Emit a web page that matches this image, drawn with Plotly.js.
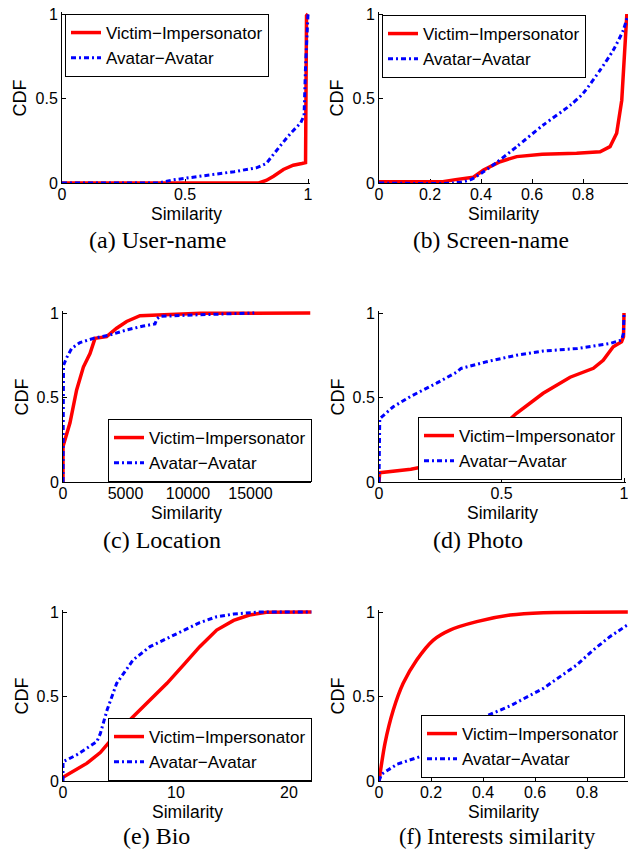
<!DOCTYPE html>
<html><head><meta charset="utf-8">
<script src="https://cdn.plot.ly/plotly-3.0.1.min.js"></script>
<style>html,body{margin:0;padding:0;background:#fff}#chart{width:628px;height:852px}</style>
</head><body><div id="chart"></div>
<script>
// ---------- data ----------
const seriesNames = ['Victim\u2212Impersonator', 'Avatar\u2212Avatar'];
const captions = ['(a) User-name', '(b) Screen-name', '(c) Location', '(d) Photo', '(e) Bio', '(f) Interests similarity'];
const xTitle = 'Similarity';
const yTitle = 'CDF';

const yTicks = [0, 0.5, 1];
const yTickText = ['0', '0.5', '1'];
const xTicksA = [0, 0.5, 1];            const xTickTextA = ['0', '0.5', '1'];
const xTicksB = [0, 0.2, 0.4, 0.6, 0.8]; const xTickTextB = ['0', '0.2', '0.4', '0.6', '0.8'];
const xTicksC = [0, 5000, 10000, 15000]; const xTickTextC = ['0', '5000', '10000', '15000'];
const xTicksD = [0, 0.5, 1];            const xTickTextD = ['0', '0.5', '1'];
const xTicksE = [0, 10, 20];            const xTickTextE = ['0', '10', '20'];
const xTicksF = [0, 0.2, 0.4, 0.6, 0.8]; const xTickTextF = ['0', '0.2', '0.4', '0.6', '0.8'];

// (a) User-name
const userVictimX = [0, 0.8, 0.83, 0.86, 0.9, 0.94, 0.975, 0.99, 0.994, 1];
const userVictimY = [0, 0, 0.015, 0.04, 0.08, 0.105, 0.115, 0.12, 0.99, 1];
const userAvatarX = [0, 0.39, 0.45, 0.56, 0.70, 0.79, 0.83, 0.89, 0.93, 0.97, 0.984, 0.99, 0.997, 1];
const userAvatarY = [0, 0, 0.018, 0.04, 0.067, 0.09, 0.115, 0.225, 0.295, 0.355, 0.40, 0.69, 0.96, 1];

// (b) Screen-name
const screenVictimX = [0, 0.25, 0.3, 0.37, 0.41, 0.475, 0.54, 0.64, 0.775, 0.867, 0.906, 0.932, 0.952, 0.965, 0.972];
const screenVictimY = [0.008, 0.008, 0.02, 0.034, 0.077, 0.126, 0.156, 0.17, 0.176, 0.185, 0.215, 0.294, 0.49, 0.787, 1];
const screenAvatarX = [0, 0.29, 0.357, 0.41, 0.46, 0.54, 0.644, 0.75, 0.80, 0.867, 0.919, 0.958, 0.975];
const screenAvatarY = [0, 0, 0.018, 0.067, 0.12, 0.215, 0.343, 0.46, 0.53, 0.668, 0.787, 0.905, 0.99];

// (c) Location
const locVictimX = [0, 0, 560, 1090, 1630, 2160, 2560, 3490, 4290, 5090, 6160, 8290, 11000, 19800];
const locVictimY = [0, 0.21, 0.35, 0.545, 0.68, 0.76, 0.85, 0.86, 0.91, 0.95, 0.984, 0.99, 0.998, 1];
const locAvatarX = [0, 0, 40, 290, 690, 1360, 2430, 3760, 5090, 6430, 7360, 7500, 7760, 11000, 15300];
const locAvatarY = [0, 0.6, 0.69, 0.735, 0.79, 0.825, 0.85, 0.87, 0.90, 0.923, 0.935, 0.965, 0.98, 0.99, 1];

// (d) Photo
const photoVictimX = [0, 0.003, 0.13, 0.25, 0.35, 0.46, 0.56, 0.67, 0.78, 0.875, 0.915, 0.956, 0.99, 0.998, 1];
const photoVictimY = [0, 0.055, 0.075, 0.11, 0.17, 0.27, 0.405, 0.525, 0.62, 0.673, 0.72, 0.80, 0.83, 0.86, 1];
const photoAvatarX = [0, 0, 0.003, 0.058, 0.127, 0.235, 0.317, 0.335, 0.44, 0.56, 0.67, 0.81, 0.943, 0.99, 0.998, 1];
const photoAvatarY = [0, 0.3, 0.375, 0.445, 0.505, 0.585, 0.65, 0.672, 0.712, 0.75, 0.775, 0.79, 0.82, 0.84, 0.88, 1];

// (e) Bio
const bioVictimX = [0, 0.9, 2.1, 3.3, 4.75, 6.2, 7.7, 9.2, 10.65, 12.1, 13.6, 15.1, 16.5, 18, 22];
const bioVictimY = [0.022, 0.055, 0.104, 0.168, 0.282, 0.38, 0.48, 0.578, 0.686, 0.795, 0.893, 0.95, 0.982, 0.998, 1];
const bioAvatarX = [0, 0, 1.2, 3.0, 3.3, 3.9, 4.75, 6.2, 7.7, 9.2, 10.65, 12.1, 13.6, 15.1, 17.4, 22];
const bioAvatarY = [0, 0.114, 0.154, 0.233, 0.28, 0.42, 0.578, 0.716, 0.795, 0.845, 0.893, 0.937, 0.972, 0.988, 1, 1];

// (f) Interests similarity
const intVictimX = [0, 0.023, 0.055, 0.093, 0.145, 0.209, 0.273, 0.376, 0.504, 0.632, 0.96];
const intVictimY = [0, 0.223, 0.42, 0.578, 0.716, 0.834, 0.893, 0.943, 0.982, 0.996, 1];
const intAvatarX = [0, 0.01, 0.07, 0.158, 0.273, 0.376, 0.504, 0.632, 0.76, 0.824, 0.888, 0.957];
const intAvatarY = [0, 0.04, 0.10, 0.144, 0.268, 0.361, 0.444, 0.548, 0.686, 0.775, 0.854, 0.925];

const panelData = [
  {vx: userVictimX, vy: userVictimY, ax: userAvatarX, ay: userAvatarY, tv: xTicksA, tt: xTickTextA},
  {vx: screenVictimX, vy: screenVictimY, ax: screenAvatarX, ay: screenAvatarY, tv: xTicksB, tt: xTickTextB},
  {vx: locVictimX, vy: locVictimY, ax: locAvatarX, ay: locAvatarY, tv: xTicksC, tt: xTickTextC},
  {vx: photoVictimX, vy: photoVictimY, ax: photoAvatarX, ay: photoAvatarY, tv: xTicksD, tt: xTickTextD},
  {vx: bioVictimX, vy: bioVictimY, ax: bioAvatarX, ay: bioAvatarY, tv: xTicksE, tt: xTickTextE},
  {vx: intVictimX, vy: intVictimY, ax: intAvatarX, ay: intAvatarY, tv: xTicksF, tt: xTickTextF}
];

// ---------- layout geometry (pixels) ----------
const W = 628, H = 852;
const geo = [
  {px0: 62,  pxu: 246,    xmax: 1.01,  py0: 183, py1: 14,  leg: {x: 65,  y: 14,  xa: 'left',  ya: 'top'},    cap: {x: 157, y: 240, s: 24},   vs: 'linear', as: 'linear'},
  {px0: 379, pxu: 255,    xmax: 0.976, py0: 183, py1: 14,  leg: {x: 382, y: 15,  xa: 'left',  ya: 'top'},    cap: {x: 491, y: 240, s: 23.5}, vs: 'linear', as: 'spline'},
  {px0: 63,  pxu: 0.0125, xmax: 19800, py0: 482, py1: 313, leg: {x: 312, y: 482, xa: 'right', ya: 'bottom'}, cap: {x: 162, y: 540, s: 24},   vs: 'linear', as: 'linear'},
  {px0: 379, pxu: 245,    xmax: 1.01,  py0: 482, py1: 313, leg: {x: 622, y: 480, xa: 'right', ya: 'bottom'}, cap: {x: 478, y: 540, s: 24},   vs: 'linear', as: 'linear'},
  {px0: 63,  pxu: 11.3,   xmax: 22,    py0: 781, py1: 612, leg: {x: 312, y: 781, xa: 'right', ya: 'bottom'}, cap: {x: 156, y: 836, s: 24},   vs: 'linear', as: 'linear'},
  {px0: 379, pxu: 260,    xmax: 0.957, py0: 781, py1: 612, leg: {x: 625, y: 778, xa: 'right', ya: 'bottom'}, cap: {x: 497, y: 836, s: 22.5}, vs: 'spline', as: 'linear'}
];
const yTop = 1.012;
const SANS = 'Liberation Sans, Arial, Helvetica, sans-serif';
const SERIF = 'Liberation Serif, Times New Roman, serif';

const traces = [];
const layout = {
  width: W, height: H,
  margin: {l: 0, r: 0, t: 0, b: 0},
  paper_bgcolor: '#fff', plot_bgcolor: 'rgba(0,0,0,0)',
  showlegend: true,
  annotations: [],
  font: {family: SANS, color: '#000'}
};

geo.forEach((g, i) => {
  const n = i === 0 ? '' : String(i + 1);
  const xa = 'x' + n, ya = 'y' + n, lg = 'legend' + n;
  const d = panelData[i];
  traces.push({
    x: d.vx, y: d.vy, xaxis: xa, yaxis: ya, legend: lg, name: seriesNames[0], mode: 'lines',
    line: {color: '#ff0000', width: 3.5, shape: g.vs, smoothing: 0.7}, hoverinfo: 'skip'
  });
  traces.push({
    x: d.ax, y: d.ay, xaxis: xa, yaxis: ya, legend: lg, name: seriesNames[1], mode: 'lines',
    line: {color: '#0000ff', width: 3, dash: '5px,3px,2px,3px', shape: g.as, smoothing: 0.7}, hoverinfo: 'skip'
  });
  const xEndPx = Math.min(W, g.px0 + g.xmax * g.pxu);
  const ypx = g.py0 - g.py1;
  const axCommon = {
    ticks: 'inside', ticklen: 4, tickcolor: '#000', tickwidth: 1,
    showline: true, linecolor: '#000', linewidth: 1, mirror: false,
    showgrid: false, zeroline: false, fixedrange: true, layer: 'below traces',
    ticklabeloverflow: 'allow',
    tickfont: {family: SANS, size: 16, color: '#000'}
  };
  layout['xaxis' + n] = Object.assign({}, axCommon, {
    domain: [g.px0 / W, xEndPx / W], range: [0, g.xmax], anchor: ya,
    tickmode: 'array', tickvals: d.tv, ticktext: d.tt, ticklabelstandoff: -3
  });
  layout['yaxis' + n] = Object.assign({}, axCommon, {
    domain: [1 - g.py0 / H, 1 - (g.py0 - yTop * ypx) / H], range: [0, yTop], anchor: xa,
    tickmode: 'array', tickvals: yTicks, ticktext: yTickText
  });
  layout[lg] = {
    x: g.leg.x / W, y: 1 - g.leg.y / H, xanchor: g.leg.xa, yanchor: g.leg.ya,
    bgcolor: '#fff', bordercolor: '#000', borderwidth: 1,
    font: {family: SANS, size: 17, color: '#000'},
    tracegroupgap: 0, itemwidth: 30, traceorder: 'normal'
  };
  layout.annotations.push({
    xref: 'paper', yref: 'paper', x: ((g.px0 + xEndPx) / 2) / W, y: 1 - (g.py0 + 31) / H,
    xanchor: 'center', yanchor: 'middle', showarrow: false, text: xTitle,
    font: {family: SANS, size: 17.5, color: '#000'}
  });
  layout.annotations.push({
    xref: 'paper', yref: 'paper', x: (g.px0 - 42) / W, y: 1 - ((g.py0 + g.py1) / 2) / H,
    xanchor: 'center', yanchor: 'middle', showarrow: false, text: yTitle, textangle: -90,
    font: {family: SANS, size: 18, color: '#000'}
  });
  layout.annotations.push({
    xref: 'paper', yref: 'paper', x: g.cap.x / W, y: 1 - g.cap.y / H,
    xanchor: 'center', yanchor: 'middle', showarrow: false, text: captions[i],
    font: {family: SERIF, size: g.cap.s, color: '#000'}
  });
});

Plotly.newPlot('chart', traces, layout, {displayModeBar: false, staticPlot: true});
</script>
</body></html>
